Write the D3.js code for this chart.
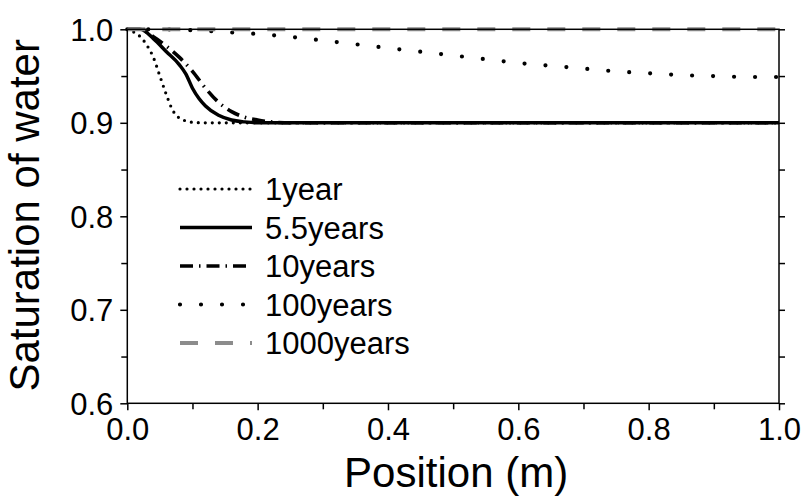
<!DOCTYPE html>
<html>
<head>
<meta charset="utf-8">
<script src="https://cdn.jsdelivr.net/npm/d3@7"></script>
<style>
  body { margin: 0; background: #fff; }
  svg text { font-family: "Liberation Sans", Arial, sans-serif; fill: #000; }
</style>
</head>
<body>
<div id="chart"></div>
<script>
// saturation profiles along the column, one array per elapsed time
const seriesNames = ["1year", "5.5years", "10years", "100years", "1000years"];

const pos1 = [0, 0.01, 0.02, 0.03, 0.04, 0.05, 0.06, 0.07, 0.08, 0.09, 0.1, 0.12, 0.2, 0.5, 1.0];
const sat1 = [1.0, 0.997, 0.992, 0.983, 0.97, 0.95, 0.93, 0.913, 0.905, 0.902, 0.9005, 0.9, 0.9, 0.9, 0.9];

const pos55 = [0, 0.02, 0.04, 0.06, 0.08, 0.09, 0.1, 0.11, 0.12, 0.14, 0.16, 0.18, 0.2, 0.5, 1.0];
const sat55 = [1.0, 1.0, 0.99, 0.976, 0.962, 0.952, 0.937, 0.926, 0.918, 0.908, 0.903, 0.901, 0.9, 0.9, 0.9];

const pos10 = [0, 0.02, 0.04, 0.06, 0.08, 0.1, 0.12, 0.14, 0.16, 0.18, 0.2, 0.22, 0.25, 0.5, 1.0];
const sat10 = [1.0, 1.0, 0.992, 0.982, 0.97, 0.955, 0.937, 0.922, 0.912, 0.906, 0.903, 0.901, 0.9, 0.9, 0.9];

const pos100 = [0, 0.05, 0.1, 0.15, 0.2, 0.25, 0.3, 0.35, 0.4, 0.45, 0.5, 0.55, 0.6, 0.65, 0.7, 0.75, 0.8, 0.85, 0.9, 0.95, 1.0];
const sat100 = [1.0, 1.0, 0.999, 0.997, 0.995, 0.992, 0.988, 0.984, 0.98, 0.976, 0.972, 0.968, 0.964, 0.961, 0.958, 0.955, 0.953, 0.951, 0.95, 0.949, 0.949];

const pos1000 = [0, 0.5, 1.0];
const sat1000 = [1.0, 1.0, 1.0];

const xTicks = [0, 0.2, 0.4, 0.6, 0.8, 1.0];
const xMinor = [0.1, 0.3, 0.5, 0.7, 0.9];
const yTicks = [0.6, 0.7, 0.8, 0.9, 1.0];
const yMinor = [0.65, 0.75, 0.85, 0.95];

const series = [
  { name: seriesNames[0], x: pos1, y: sat1, color: "#000", width: 3.2, dash: "0,7", cap: "round" },
  { name: seriesNames[1], x: pos55, y: sat55, color: "#000", width: 3.5, dash: null, cap: "butt" },
  { name: seriesNames[2], x: pos10, y: sat10, color: "#000", width: 3.6, dash: "13,6,1.5,6", cap: "butt" },
  { name: seriesNames[3], x: pos100, y: sat100, color: "#000", width: 4.2, dash: "0,21", cap: "round" },
  { name: seriesNames[4], x: pos1000, y: sat1000, color: "#8c8c8c", width: 4, dash: "18,17", cap: "butt" }
];

const width = 801;
const height = 497;
const margin = { top: 29.3, right: 22, bottom: 93.7, left: 127.3 };
const innerW = width - margin.left - margin.right;
const innerH = height - margin.top - margin.bottom;

const svg = d3.select("#chart")
  .append("svg")
  .attr("width", width)
  .attr("height", height);

const g = svg.append("g")
  .attr("transform", `translate(${margin.left},${margin.top})`);

const xScale = d3.scaleLinear().domain([0, 1]).range([0, innerW]);
const yScale = d3.scaleLinear().domain([0.6, 1.0]).range([innerH, 0]);

const line = d3.line()
  .x((d) => xScale(d[0]))
  .y((d) => yScale(d[1]))
  .curve(d3.curveMonotoneX);

// curves
series.forEach((s) => {
  g.append("path")
    .datum(s.x.map((p, i) => [p, s.y[i]]))
    .attr("d", line)
    .attr("fill", "none")
    .attr("stroke", s.color)
    .attr("stroke-width", s.width)
    .attr("stroke-dasharray", s.dash)
    .attr("stroke-linecap", s.cap);
});

// axes
const axisStyle = (sel) => {
  sel.select(".domain").remove();
  sel.selectAll("line").attr("stroke", "#000").attr("stroke-width", 1.5);
  sel.selectAll("text").style("font-size", "31px");
};

g.append("g")
  .attr("transform", `translate(0,${innerH})`)
  .call(d3.axisBottom(xScale).tickValues(xTicks).tickSize(7).tickPadding(8).tickFormat(d3.format(".1f")))
  .call(axisStyle);

g.append("g")
  .attr("transform", `translate(0,${innerH})`)
  .call(d3.axisBottom(xScale).tickValues(xMinor).tickSize(6).tickFormat(""))
  .call(axisStyle);

g.append("g")
  .call(d3.axisLeft(yScale).tickValues(yTicks).tickSize(7).tickPadding(7).tickFormat(d3.format(".1f")))
  .call(axisStyle)
  .selectAll("text")
  .attr("dy", "0.36em");

g.append("g")
  .call(d3.axisLeft(yScale).tickValues(yMinor).tickSize(6).tickFormat(""))
  .call(axisStyle);

g.append("g")
  .attr("transform", `translate(${innerW},0)`)
  .call(d3.axisRight(yScale).tickValues(yTicks.concat(yMinor)).tickSize(6).tickFormat(""))
  .call(axisStyle);

// frame
g.append("rect")
  .attr("width", innerW)
  .attr("height", innerH)
  .attr("fill", "none")
  .attr("stroke", "#000")
  .attr("stroke-width", 1.5);

// axis titles
svg.append("text")
  .attr("x", margin.left + innerW / 2 + 3)
  .attr("y", 487)
  .attr("text-anchor", "middle")
  .style("font-size", "42px")
  .text("Position (m)");

svg.append("text")
  .attr("transform", `translate(39,${margin.top + innerH / 2 - 1}) rotate(-90)`)
  .attr("text-anchor", "middle")
  .style("font-size", "42px")
  .text("Saturation of water");

// legend
const legend = svg.append("g").attr("transform", "translate(180,189)");
series.forEach((s, i) => {
  const row = legend.append("g").attr("transform", `translate(0,${i * 38.5})`);
  row.append("line")
    .attr("x1", 0)
    .attr("x2", 72)
    .attr("stroke", s.color)
    .attr("stroke-width", s.width)
    .attr("stroke-dasharray", s.dash)
    .attr("stroke-linecap", s.cap);
  row.append("text")
    .attr("x", 85)
    .attr("dy", "0.36em")
    .style("font-size", "31px")
    .text(s.name);
});
</script>
</body>
</html>
